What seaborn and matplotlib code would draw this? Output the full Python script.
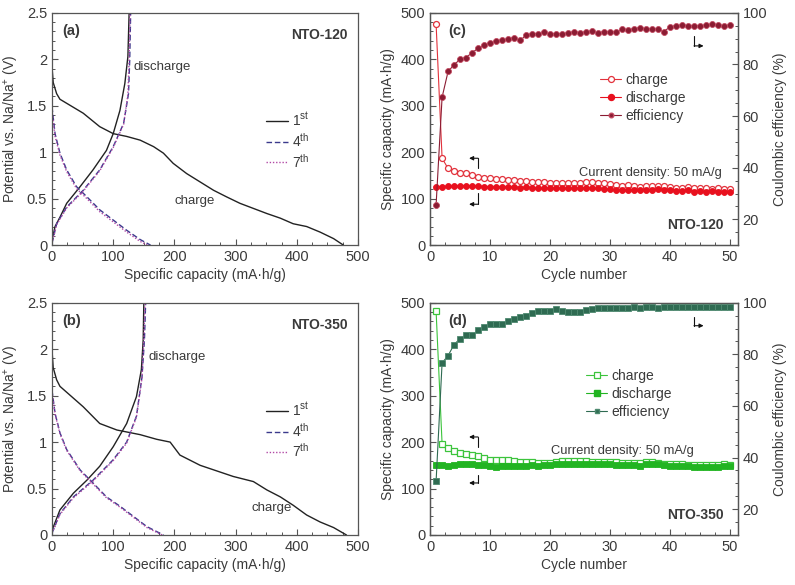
import seaborn as sns
import matplotlib.pyplot as plt
from matplotlib.ticker import MultipleLocator
from matplotlib.lines import Line2D

# ---- (a) NTO-120 galvanostatic curves ----
a_cap_1d = [0, 2, 7.6, 13, 51, 78, 100, 122, 144, 166, 182, 198, 220, 242, 264, 285, 307, 329, 351, 373, 394, 416, 438, 460, 476]
a_v_1d = [1.92, 1.75, 1.63, 1.57, 1.42, 1.275, 1.20, 1.17, 1.13, 1.06, 0.99, 0.88, 0.77, 0.68, 0.59, 0.52, 0.45, 0.395, 0.34, 0.29, 0.23, 0.20, 0.14, 0.07, 0.0]
a_cap_1c = [0, 5, 13, 24, 46, 67, 89, 100, 111, 119, 124, 126]
a_v_1c = [0.05, 0.2, 0.3, 0.45, 0.63, 0.81, 1.02, 1.2, 1.45, 1.74, 2.03, 2.5]
a_cap_4d = [0, 5, 13, 24, 40, 57, 78, 100, 122, 144, 161]
a_v_4d = [1.49, 1.2, 0.99, 0.81, 0.63, 0.52, 0.38, 0.27, 0.16, 0.06, 0.0]
a_cap_4c = [0, 7.6, 24, 51, 78, 100, 117, 125, 127, 128.5]
a_v_4c = [0.02, 0.23, 0.41, 0.59, 0.81, 1.06, 1.31, 1.63, 2.0, 2.5]
a_cap_7d = [0, 5, 13, 24, 40, 57, 78, 100, 122, 144, 156]
a_v_7d = [1.45, 1.17, 0.97, 0.79, 0.61, 0.50, 0.36, 0.25, 0.14, 0.04, 0.0]
a_cap_7c = [0, 7.6, 24, 51, 78, 100, 117, 124, 126, 127.5]
a_v_7c = [0.02, 0.22, 0.40, 0.58, 0.80, 1.05, 1.30, 1.62, 2.0, 2.5]

# ---- (b) NTO-350 galvanostatic curves ----
b_cap_1d = [0, 2, 7.6, 13, 51, 78, 106, 144, 171, 193, 209, 242, 296, 329, 351, 373, 394, 416, 438, 460, 481]
b_v_1d = [1.99, 1.8, 1.67, 1.6, 1.38, 1.2, 1.13, 1.08, 1.03, 1.0, 0.86, 0.75, 0.63, 0.575, 0.485, 0.41, 0.32, 0.215, 0.14, 0.08, 0.0]
b_cap_1c = [0, 13, 35, 57, 78, 100, 122, 138, 146, 149, 150]
b_v_1c = [0.05, 0.27, 0.45, 0.59, 0.74, 0.95, 1.2, 1.49, 1.78, 2.1, 2.5]
b_cap_4d = [0, 5, 13, 24, 46, 67, 89, 111, 133, 155, 182]
b_v_4d = [1.56, 1.31, 1.1, 0.92, 0.70, 0.56, 0.41, 0.31, 0.2, 0.09, 0.0]
b_cap_4c = [0, 13, 35, 67, 100, 122, 138, 147, 151, 153]
b_v_4c = [0.02, 0.23, 0.41, 0.59, 0.81, 1.0, 1.28, 1.7, 2.1, 2.5]
b_cap_7d = [0, 5, 13, 24, 46, 67, 89, 111, 133, 155, 180]
b_v_7d = [1.54, 1.3, 1.09, 0.91, 0.69, 0.55, 0.40, 0.30, 0.19, 0.08, 0.0]
b_cap_7c = [0, 13, 35, 67, 100, 122, 138, 147, 150, 152]
b_v_7c = [0.02, 0.22, 0.40, 0.58, 0.80, 0.99, 1.27, 1.69, 2.1, 2.5]

# ---- (c) NTO-120 cycling ----
cycles = list(range(1, 51))
c_charge = [476, 187, 165, 160, 156, 155, 150, 147, 145, 144, 143, 142, 140, 141, 139, 138, 136, 135, 135, 134,
            134, 134, 133, 134, 134, 136, 135, 134, 133, 132, 130, 128, 129, 127, 126, 127, 128, 128, 127, 126,
            124, 122, 125, 122, 124, 122, 121, 122, 120, 121]
c_discharge = [125, 126, 127, 127, 128, 128, 127, 127, 126, 126, 126, 126, 125, 126, 124, 125, 124, 123, 123, 123,
               122, 122, 122, 122, 122, 124, 123, 122, 121, 120, 119, 118, 119, 119, 118, 119, 119, 120, 119, 119,
               117, 116, 118, 115, 116, 115, 116, 115, 114, 114]
c_eff = [25.6, 67.3, 77.3, 79.9, 82.0, 82.7, 84.6, 86.2, 87.5, 88.5, 89.0, 89.3, 89.8, 90.4, 89.3, 91.3, 91.9, 92.0, 92.4, 92.0,
         91.9, 91.9, 92.2, 92.6, 92.3, 92.6, 93.0, 92.3, 92.6, 92.7, 92.5, 93.6, 93.5, 93.7, 94.3, 93.7, 93.7, 93.6, 92.7, 94.7,
         94.9, 95.3, 95.0, 94.9, 94.9, 95.2, 95.5, 95.3, 94.9, 95.3]

# ---- (d) NTO-350 cycling ----
d_charge = [482, 196, 188, 181, 177, 175, 173, 170, 166, 162, 161, 162, 161, 159, 158, 158, 157, 155, 155, 156,
            158, 160, 159, 159, 159, 159, 158, 158, 158, 157, 157, 156, 155, 155, 154, 157, 157, 156, 153, 152,
            152, 152, 151, 151, 150, 151, 150, 150, 152, 151]
d_discharge = [150, 150, 148, 151, 152, 152, 152, 151, 150, 149, 147, 148, 149, 149, 148, 149, 150, 148, 150, 151,
               153, 153, 152, 153, 153, 153, 153, 152, 152, 152, 151, 151, 151, 150, 149, 153, 153, 152, 150, 149,
               148, 148, 148, 147, 146, 147, 146, 147, 149, 148]
d_eff = [30.8, 76.7, 79.5, 83.8, 86.1, 87.4, 87.4, 89.3, 90.5, 91.9, 91.9, 91.7, 93.0, 93.7, 94.4, 94.9, 96.1, 96.7, 96.9, 96.9,
         97.4, 96.9, 96.6, 96.6, 96.6, 97.0, 97.7, 97.9, 97.9, 97.9, 97.9, 97.9, 98.0, 98.3, 97.9, 98.3, 98.5, 97.8, 98.3, 98.5,
         98.5, 98.5, 98.5, 98.5, 98.4, 98.4, 98.4, 98.4, 98.4, 98.4]

sns.set_style('ticks')
plt.rcParams['font.family'] = ['Liberation Sans', 'DejaVu Sans']
plt.rcParams['mathtext.fontset'] = 'custom'
plt.rcParams['mathtext.rm'] = 'Liberation Sans'
TXT = '#3a3a3a'
SPINE = '#555555'
plt.rcParams.update({'text.color': TXT, 'axes.labelcolor': TXT, 'xtick.color': SPINE, 'ytick.color': SPINE,
                     'xtick.labelcolor': TXT, 'ytick.labelcolor': TXT, 'axes.edgecolor': SPINE,
                     'xtick.direction': 'in', 'ytick.direction': 'in', 'axes.linewidth': 0.9})

fig = plt.figure(figsize=(7.95, 5.85), dpi=100)

C1, C4, C7 = '#222222', '#3b3a8c', '#b24aa6'
MS = 4.3


def style_axis(ax):
    ax.tick_params(which='major', length=4, width=0.8, labelsize=10.5)
    ax.tick_params(which='minor', length=2.2, width=0.7)


def galvano(ax, d, tag, name, dis_xy, chg_xy):
    (c1d, v1d, c1c, v1c, c4d, v4d, c4c, v4c, c7d, v7d, c7c, v7c) = d
    for cx, vy in [(c1d, v1d), (c1c, v1c)]:
        sns.lineplot(x=cx, y=vy, ax=ax, color=C1, lw=1.0, sort=False, estimator=None)
    for cx, vy in [(c4d, v4d), (c4c, v4c)]:
        sns.lineplot(x=cx, y=vy, ax=ax, color=C4, lw=1.0, sort=False, estimator=None, linestyle=(0, (4, 2)))
    for cx, vy in [(c7d, v7d), (c7c, v7c)]:
        sns.lineplot(x=cx, y=vy, ax=ax, color=C7, lw=1.0, sort=False, estimator=None, linestyle=(0, (1, 1.3)))
    ax.set_xlim(0, 500)
    ax.set_ylim(0, 2.5)
    ax.xaxis.set_major_locator(MultipleLocator(100))
    ax.xaxis.set_minor_locator(MultipleLocator(25))
    ax.yaxis.set_major_locator(MultipleLocator(0.5))
    ax.yaxis.set_minor_locator(MultipleLocator(0.1))
    ax.set_yticks([0, 0.5, 1, 1.5, 2, 2.5], ['0', '0.5', '1', '1.5', '2', '2.5'])
    style_axis(ax)
    ax.set_xlabel('Specific capacity (mA·h/g)', fontsize=10, labelpad=3)
    ax.set_ylabel('Potential vs. Na/Na$^{+}$ (V)', fontsize=10, labelpad=4)
    ax.text(0.035, 0.92, tag, transform=ax.transAxes, fontsize=10.5, fontweight='bold', va='center')
    ax.text(0.965, 0.905, name, transform=ax.transAxes, fontsize=10, fontweight='bold', va='center', ha='right')
    ax.text(dis_xy[0], dis_xy[1], 'discharge', fontsize=9.5, va='center')
    ax.text(chg_xy[0], chg_xy[1], 'charge', fontsize=9.5, va='center')
    handles = [Line2D([], [], color=C1, lw=1.0),
               Line2D([], [], color=C4, lw=1.0, linestyle=(0, (4, 2))),
               Line2D([], [], color=C7, lw=1.0, linestyle=(0, (1, 1.3)))]
    ax.legend(handles, ['1$^{\\rm st}$', '4$^{\\rm th}$', '7$^{\\rm th}$'], loc='upper left',
              bbox_to_anchor=(0.68, 0.60), frameon=False, fontsize=10, handlelength=1.6,
              handletextpad=0.3, labelspacing=0.2, borderaxespad=0)


def cycling(ax, ch, dc, ef, colors, mk, tag, name, cd_x, arrows):
    c_ch, c_dc, c_ef, c_efe = colors
    ax2 = ax.twinx()
    sns.lineplot(x=cycles, y=ch, ax=ax, color=c_ch, lw=0.8, marker=mk, markersize=MS, mfc='white',
                 mec=c_ch, mew=0.9, estimator=None, sort=False)
    sns.lineplot(x=cycles, y=dc, ax=ax, color=c_dc, lw=0.8, marker=mk, markersize=MS, mfc=c_dc,
                 mec=c_dc, mew=0.6, estimator=None, sort=False)
    sns.lineplot(x=cycles, y=ef, ax=ax2, color=c_ef, lw=0.8, marker=mk, markersize=MS, mfc=c_ef,
                 mec=c_efe, mew=0.6, estimator=None, sort=False)
    ax.set_xlim(0, 51.3)
    ax.set_ylim(0, 500)
    ax2.set_ylim(10, 100)
    ax.xaxis.set_major_locator(MultipleLocator(10))
    ax.xaxis.set_minor_locator(MultipleLocator(2.5))
    ax.yaxis.set_major_locator(MultipleLocator(100))
    ax.yaxis.set_minor_locator(MultipleLocator(20))
    ax2.yaxis.set_major_locator(MultipleLocator(20))
    ax2.yaxis.set_minor_locator(MultipleLocator(5))
    style_axis(ax)
    style_axis(ax2)
    ax.set_xlabel('Cycle number', fontsize=10, labelpad=3)
    ax.set_ylabel('Specific capacity (mA·h/g)', fontsize=10, labelpad=4)
    ax2.set_ylabel('Coulombic efficiency (%)', fontsize=10, labelpad=4)
    ax.text(0.06, 0.92, tag, transform=ax.transAxes, fontsize=10.5, fontweight='bold', va='center')
    ax.text(0.953, 0.085, name, transform=ax.transAxes, fontsize=10, fontweight='bold', va='center', ha='right')
    ax.text(cd_x[0], cd_x[1], 'Current density: 50 mA/g', fontsize=9.3, va='center')
    # bracket arrows pointing to the axes
    (ux, uy0, uy1), (lx, ly0, ly1), (rx, ry0, ry1) = arrows
    ak = dict(arrowstyle='-|>', color='#111111', lw=0.8, mutation_scale=6, shrinkA=0, shrinkB=0)
    ax.plot([ux, ux], [uy0, uy1], color='#111111', lw=0.8)
    ax.annotate('', xy=(ux - 1.5, uy0), xytext=(ux, uy0), arrowprops=ak)
    ax.plot([lx, lx], [ly0, ly1], color='#111111', lw=0.8)
    ax.annotate('', xy=(lx - 1.5, ly1), xytext=(lx, ly1), arrowprops=ak)
    ax2.plot([rx, rx], [ry0, ry1], color='#111111', lw=0.8)
    ax2.annotate('', xy=(rx + 1.6, ry1), xytext=(rx, ry1), arrowprops=ak)
    handles = [Line2D([], [], color=c_ch, lw=0.8, marker=mk, ms=MS, mfc='white', mec=c_ch, mew=0.9),
               Line2D([], [], color=c_dc, lw=0.8, marker=mk, ms=MS, mfc=c_dc, mec=c_dc),
               Line2D([], [], color=c_ef, lw=0.8, marker=mk, ms=MS - 1, mfc=c_ef, mec=c_efe)]
    return ax2, handles


ax_a = fig.add_axes([0.0654, 0.581, 0.385, 0.397])
galvano(ax_a, (a_cap_1d, a_v_1d, a_cap_1c, a_v_1c, a_cap_4d, a_v_4d, a_cap_4c, a_v_4c,
               a_cap_7d, a_v_7d, a_cap_7c, a_v_7c), '(a)', 'NTO-120', (133, 1.92), (200, 0.48))

ax_b = fig.add_axes([0.0654, 0.0855, 0.385, 0.397])
galvano(ax_b, (b_cap_1d, b_v_1d, b_cap_1c, b_v_1c, b_cap_4d, b_v_4d, b_cap_4c, b_v_4c,
               b_cap_7d, b_v_7d, b_cap_7c, b_v_7c), '(b)', 'NTO-350', (157, 1.92), (326, 0.29))

ax_c = fig.add_axes([0.541, 0.581, 0.387, 0.397])
ax_c2, hc = cycling(ax_c, c_charge, c_discharge, c_eff, ('#e2323c', '#e8101e', '#8b1c33', '#c24a60'), 'o',
                    '(c)', 'NTO-120', (24.8, 155), ((8.0, 187, 165), (8.0, 112, 88), (44.0, 91, 87.2)))
ax_c.legend(hc, ['charge', 'discharge', 'efficiency'], loc='upper left', bbox_to_anchor=(0.535, 0.765),
            frameon=False, fontsize=10, handlelength=1.5, handletextpad=0.3, labelspacing=0.3, borderaxespad=0)

ax_d = fig.add_axes([0.541, 0.0855, 0.387, 0.397])
ax_d2, hd = cycling(ax_d, d_charge, d_discharge, d_eff, ('#3cc43c', '#22b422', '#2f6b52', '#4f8a70'), 's',
                    '(d)', 'NTO-350', (20.2, 181), ((8.0, 211, 190), (8.0, 129, 112), (44.0, 94.6, 91.1)))
ax_d.legend(hd, ['charge', 'discharge', 'efficiency'], loc='upper left', bbox_to_anchor=(0.49, 0.74),
            frameon=False, fontsize=10, handlelength=1.5, handletextpad=0.3, labelspacing=0.3, borderaxespad=0)

fig.savefig('out.png', dpi=100)
